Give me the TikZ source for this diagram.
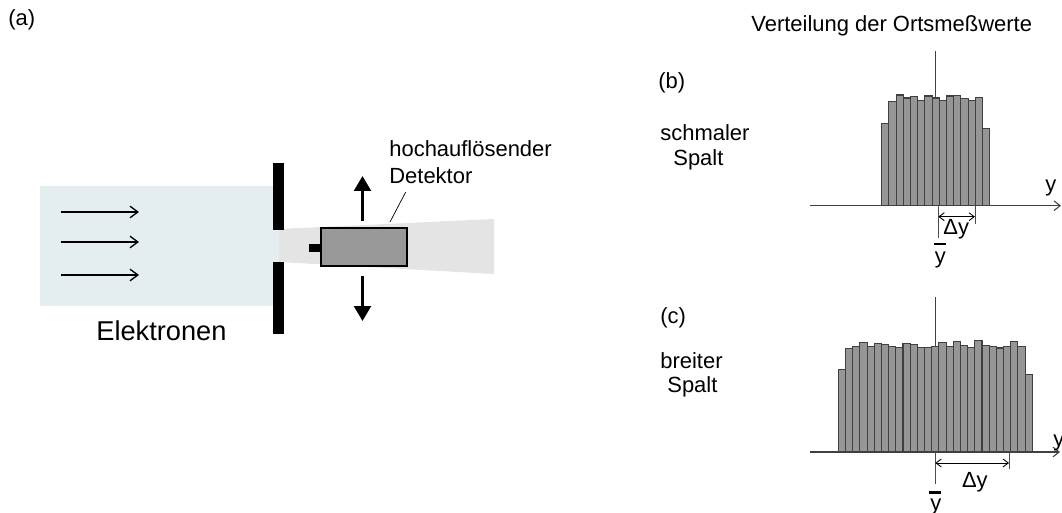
\documentclass[tikz,border=0pt]{standalone}
\usepackage{fontspec}
\setmainfont{Liberation Sans}
\usetikzlibrary{arrows.meta}
\tikzset{
  label/.style={anchor=base west, inner sep=0pt, font=\fontsize{12.5}{14}\selectfont},
  bigarrow/.style={line width=1.7pt, -{Triangle[width=9.5pt,length=8.5pt]}},
  thinarrow/.style={line width=0.75pt, -{Straight Barb[width=6.6pt,length=4.5pt]}},
  dimarrow/.style={line width=0.5pt, {Straight Barb[width=4.5pt,length=3pt]}-{Straight Barb[width=4.5pt,length=3pt]}},
  histbar/.style={draw=black!75, line width=0.6pt, fill=black!41},
  blackbar/.style={fill=black, draw=none},
  axis/.style={draw=black!75, line width=0.6pt},
  mark line/.style={draw=black!70, line width=0.5pt}
}
\definecolor{beamblue}{HTML}{E4EEF1}
\definecolor{beamgray}{HTML}{E4E4E4}
\begin{document}
\begin{tikzpicture}[x=0.02cm,y=-0.02cm]
\useasboundingbox (0,0) rectangle (1062,513);
\fill[beamblue] (40,186) rectangle (279,306);
\fill[beamgray] (279,229) -- (494,219) -- (494,274) -- (279,262) -- cycle;
\fill[blackbar] (273,163) rectangle (284,230);
\fill[blackbar] (273,262.5) rectangle (284,334);
\fill[blackbar] (309,244) rectangle (322,252);
\node[draw, line width=1.4pt, fill=black!40, minimum width=1.72cm, minimum height=0.76cm, inner sep=0pt] (detector) at (364,247) {};
\foreach \y in {212,242,275} {
    \coordinate (start\y) at (61,\y);
    \coordinate (end\y) at (139,\y);
    \draw[thinarrow] (start\y) -- (end\y);
}
\coordinate (upstart) at (362.5,221);
\coordinate (upend) at (362.5,176);
\coordinate (downstart) at (362.5,276);
\coordinate (downend) at (362.5,321);
\draw[bigarrow] (upstart) -- (upend);
\draw[bigarrow] (downstart) -- (downend);
\node[label] (hoch) at (389,157) {hochauflösender};
\node[label] (det) at (389,184) {Detektor};
\coordinate (leadera) at (390,222);
\coordinate (leaderb) at (405.7,192);
\draw[line width=0.4pt] (leadera) -- (leaderb);
\node[label, font=\fontsize{15.5}{18}\selectfont] (elek) at (96,340.7) {Elektronen};
\node[label] (a) at (8,26) {(a)};
\node[label] (title) at (751,32) {Verteilung der Ortsmeßwerte};
\node[label] (b) at (658,89) {(b)};
\node[label] (schmal) at (660,140.7) {schmaler};
\node[label] (spaltb) at (673,165.7) {Spalt};
\node[label] (c) at (660,324) {(c)};
\node[label] (breit) at (660,368) {breiter};
\node[label] (spaltc) at (667,392.7) {Spalt};
\coordinate (axbtop) at (935.3,51);
\coordinate (axbbot) at (935.3,205.7);
\draw[axis] (axbtop) -- (axbbot);
\foreach \h [count=\i from 0] in {123.3,101.7,95,98,96.7,100.7,96,98,100.7,96,95.7,98.7,100.7,97.7,128.3}
    \draw[histbar] ({881.7+\i*7.2},205.7) rectangle ({881.7+(\i+1)*7.2},\h);
\coordinate (axbl) at (810,205.7);
\coordinate (axbr) at (1061,205.7);
\draw[axis, -{Straight Barb[width=5.5pt,length=3.5pt]}] (axbl) -- (axbr);
\coordinate (mbl) at (938.3,205.7);
\coordinate (mblb) at (938.3,238);
\coordinate (mbr) at (975,205.7);
\coordinate (mbrb) at (975,224);
\draw[mark line] (mbl) -- (mblb);
\draw[mark line] (mbr) -- (mbrb);
\coordinate (dbl) at (938.3,216.7);
\coordinate (dbr) at (975,216.7);
\draw[dimarrow] (dbl) -- (dbr);
\node[label] (dyb) at (943,235) {Δy};
\node[label] (yb) at (1045,191.7) {y};
\coordinate (obl) at (934,244.3);
\coordinate (obr) at (945.7,244.3);
\draw[line width=1.2pt] (obl) -- (obr);
\node[label] (ybarb) at (934.5,263.5) {y};
\coordinate (axctop) at (935.3,296.7);
\coordinate (axcbot) at (935.3,452);
\draw[axis] (axctop) -- (axcbot);
\foreach \h [count=\i from 0] in {369.3,348.3,346.3,342.7,346.7,343.7,344.3,346.7,347.3,343.3,344.7,347.7,347.7,346.3,342.3,346.3,341.3,345.3,347.3,340.7,345.3,346.3,348,346.3,341.3,346.3,374.3}
    \draw[histbar] ({838.3+\i*7.185},452) rectangle ({838.3+(\i+1)*7.185},\h);
\coordinate (axcl) at (810,452);
\coordinate (axcr) at (1060,452);
\draw[axis, -{Straight Barb[width=5.5pt,length=3.5pt]}] (axcl) -- (axcr);
\coordinate (mcl) at (935.3,452);
\coordinate (mclb) at (935.3,484);
\coordinate (mcr) at (1009,452);
\coordinate (mcrb) at (1009,469);
\draw[mark line] (mcl) -- (mclb);
\draw[mark line] (mcr) -- (mcrb);
\coordinate (dcl) at (935.3,463);
\coordinate (dcr) at (1009,463);
\draw[dimarrow] (dcl) -- (dcr);
\node[label] (dyc) at (961.7,487) {Δy};
\node[label] (yc) at (1053,446.7) {y};
\coordinate (ocl) at (929,492.5);
\coordinate (ocr) at (941,492.5);
\draw[line width=1.2pt] (ocl) -- (ocr);
\node[label] (ybarc) at (930,510) {y};
\end{tikzpicture}
\end{document}
